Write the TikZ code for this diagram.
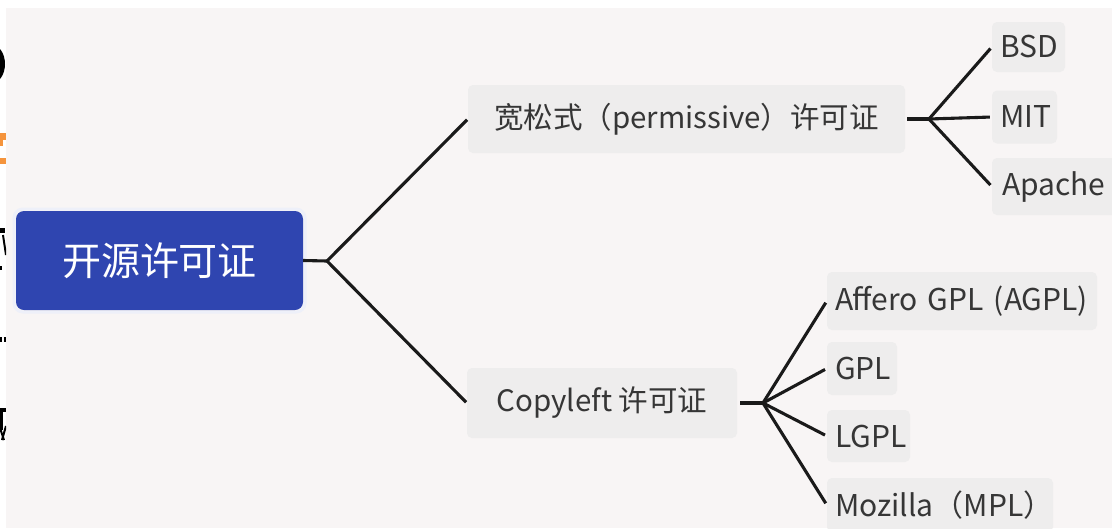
\documentclass[tikz,border=0pt]{standalone}
\usepackage{fontspec}
\setmainfont{Noto Sans CJK SC}
\definecolor{bgc}{HTML}{F8F5F5}
\definecolor{boxc}{HTML}{EEEDED}
\definecolor{txtc}{HTML}{363636}
\definecolor{rootc}{HTML}{2F45B0}
\definecolor{linec}{HTML}{1A1A1A}
\definecolor{orangec}{HTML}{F5943C}
\tikzset{
  rootbox/.style={rectangle, rounded corners=8pt, fill=rootc, text=white, inner sep=0pt,
    minimum width=287pt, minimum height=99pt, font=\fontsize{39}{41}\selectfont},
  midbox/.style={rectangle, rounded corners=5pt, fill=boxc, text=txtc, inner sep=0pt,
    font=\fontsize{29.5}{32}\selectfont},
  leafbox/.style={rectangle, rounded corners=5pt, fill=boxc, text=txtc, inner ysep=0pt,
    inner xsep=8pt, align=left, font=\fontsize{30}{32}\selectfont},
  conn/.style={draw=linec, line width=3.1pt},
}
\begin{document}
\begin{tikzpicture}[x=1pt,y=-1pt]
\clip (0,0) rectangle (1112,528);
\fill[bgc] (0,0) rectangle (1112,528);
% white margins from the cropped slide
\fill[white] (0,0) rectangle (1112,8);
\fill[white] (0,0) rectangle (6,528);
% fragments of cut-off slide characters
\begin{scope}
\clip (0,0) rectangle (6,528);
\fill[black] (-8,64) ellipse (13pt and 19pt);
\fill[orangec] (0,133) rectangle (6,140);
\fill[orangec] (0,140) rectangle (3,146);
\fill[orangec] (0,158) rectangle (6,164);
\fill[black] (0,228) rectangle (5,233);
\draw[black, line width=2pt] (3,235) -- (6,255);
\fill[black] (0,266) rectangle (2,270);
\fill[black] (0,337) rectangle (2,342);
\fill[black] (4,337) rectangle (6,342);
\fill[black] (0,408) rectangle (6,412);
\fill[black] (0,412) rectangle (3,430);
\draw[black, line width=2pt] (0,428) -- (4,440);
\draw[black, line width=2pt] (6,426) -- (2,440);
\end{scope}
% root
\draw[white!92!rootc, line width=3pt, rounded corners=9pt] (14,209) rectangle (305,312);
\node[rootbox] (root) at (159.5,260.5) {开源许可证};
% level 1
\node[midbox, minimum width=437pt, minimum height=68pt] (perm) at (686.5,119) {宽松式（permissive）许可证};
\node[midbox, minimum width=270pt, minimum height=70pt] (copy) at (602,403) {Copyleft 许可证};
% leaves (text width = box width - 16)
\node[leafbox, text width=57pt, minimum height=50pt] (bsd) at (1028.5,47) {BSD};
\node[leafbox, text width=49pt, minimum height=53pt] (mit) at (1024.5,117) {MIT};
\node[leafbox, text width=106pt, minimum height=57pt, inner xsep=10pt] (apache) at (1055,186.5) {Apache};
\node[leafbox, text width=254pt, minimum height=58pt] (agpl) at (962,301) {Affero GPL (AGPL)};
\node[leafbox, text width=54pt, minimum height=53pt] (gpl) at (862,368.5) {GPL};
\node[leafbox, text width=67pt, minimum height=52pt] (lgpl) at (868.5,436) {LGPL};
\node[leafbox, text width=210pt, minimum height=54pt] (mpl) at (940,505) {Mozilla（MPL）};
% junctions
\coordinate (j0) at (327,261);
\coordinate (j1) at (929,119);
\coordinate (j2) at (763,403);
% connectors
\draw[conn] (root.east) -- (j0);
\draw[conn, shorten >=1pt] (j0) -- (perm.west);
\draw[conn, shorten >=1pt] (j0) -- (copy.west);
\draw[conn, shorten <=2pt] (perm.east) -- (j1);
\draw[conn, shorten >=2pt] (j1) -- (bsd.west);
\draw[conn, shorten >=2pt] (j1) -- (mit.west);
\draw[conn, shorten >=2pt] (j1) -- (apache.west);
\draw[conn, shorten <=3pt] (copy.east) -- (j2);
\draw[conn, shorten >=2pt] (j2) -- (agpl.west);
\draw[conn, shorten >=2pt] (j2) -- (gpl.west);
\draw[conn, shorten >=2pt] (j2) -- (lgpl.west);
\draw[conn, shorten >=2pt] (j2) -- (mpl.west);
\end{tikzpicture}
\end{document}
